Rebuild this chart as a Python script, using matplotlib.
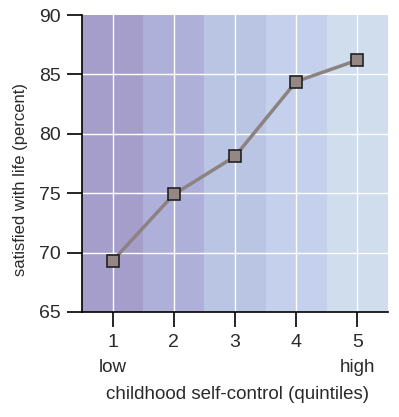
#!/usr/bin/env python3

#Life satisfaction by childhood self-control quintile

import matplotlib.pyplot as plt
from matplotlib.transforms import blended_transform_factory

#Data
quintiles = [1, 2, 3, 4, 5]
satisfied_pct = [69.3, 74.9, 78.1, 84.4, 86.2]
band_colors = ["#A59ECB", "#AFB0D9", "#BAC5E3", "#C5D1EC", "#D0DDEC"]
y_ticks = [65, 70, 75, 80, 85, 90]

plt.rcParams["font.family"] = ["Liberation Sans", "DejaVu Sans"]

fig = plt.figure(figsize=(3.99, 4.17), dpi=100)
ax = fig.add_axes([82 / 399, 1 - 312 / 417, (388 - 82) / 399, (312 - 15) / 417])

#Background bands, one per quintile
for q, c in zip(quintiles, band_colors):
    ax.axvspan(q - 0.5, q + 0.5, color=c, lw=0, zorder=0)

#White grid
for q in quintiles:
    ax.axvline(q, color="white", lw=1, zorder=1)
for y in y_ticks[1:-1]:
    ax.axhline(y, color="white", lw=1, zorder=1)

#Line with square markers
ax.plot(quintiles, satisfied_pct, color="#8C8280", lw=2.5, zorder=2)
ax.plot(quintiles, satisfied_pct, ls="none", marker="s", ms=8.5,
        mfc="#958783", mec="#222222", mew=1.2, zorder=3)

ax.set_xlim(0.5, 5.5)
ax.set_ylim(65, 90)
ax.set_xticks(quintiles)
ax.set_yticks(y_ticks)
ax.tick_params(axis="both", direction="out", length=11, width=1.2,
               labelsize=14, colors="black", labelcolor="#2a2a2a")
ax.tick_params(axis="x", pad=5)
ax.tick_params(axis="y", pad=4)

for side in ["top", "right"]:
    ax.spines[side].set_visible(False)
for side in ["left", "bottom"]:
    ax.spines[side].set_linewidth(1.2)

#low / high labels under the ticks
trans = blended_transform_factory(ax.transData, ax.transAxes)
ax.text(1, -0.187, "low", transform=trans, ha="center", va="center",
        fontsize=13.5, color="#2a2a2a")
ax.text(5, -0.187, "high", transform=trans, ha="center", va="center",
        fontsize=13.5, color="#2a2a2a")

ax.set_xlabel("childhood self-control (quintiles)", fontsize=13.5,
              color="#2a2a2a")
ax.xaxis.set_label_coords(0.508, -0.25)
ax.set_ylabel("satisfied with life (percent)", fontsize=12,
              color="#2a2a2a")
ax.yaxis.set_label_coords(-0.178, 0.445)

plt.savefig("out.png", dpi=100)
plt.close()
